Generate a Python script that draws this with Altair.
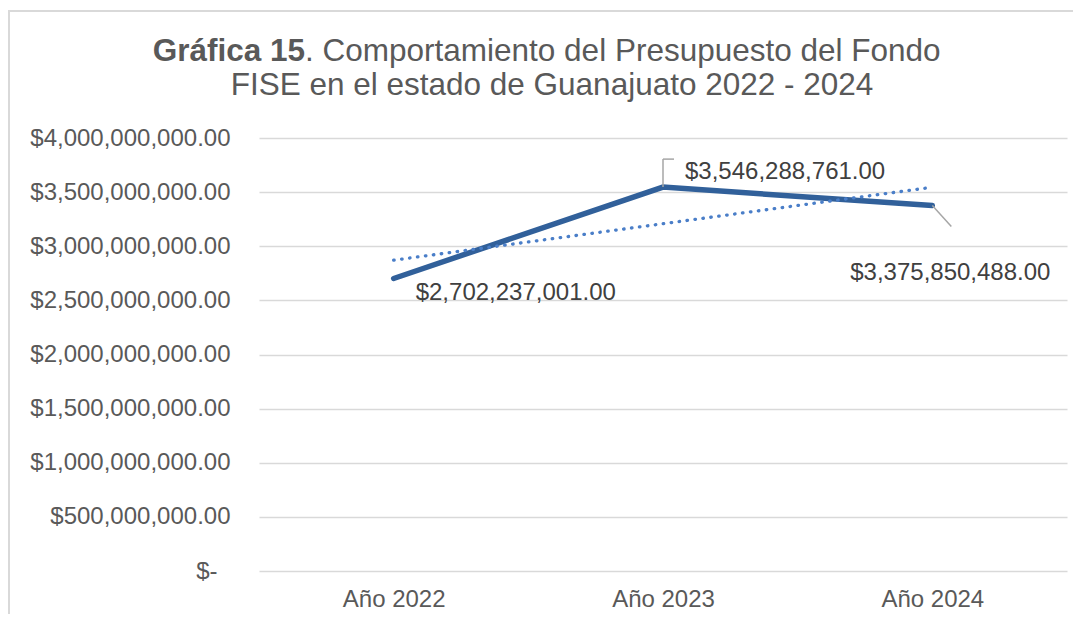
import altair as alt
import pandas as pd

categories = ["Año 2022", "Año 2023", "Año 2024"]
values = [2702237001.00, 3546288761.00, 3375850488.00]
y_ticks = [0, 500000000, 1000000000, 1500000000, 2000000000,
           2500000000, 3000000000, 3500000000, 4000000000]

title_bold = "Gráfica 15"
title_rest = ". Comportamiento del Presupuesto del Fondo"
title_line2 = "FISE en el estado de Guanajuato 2022 - 2024"

FONT = "Liberation Sans"
LBL = 24
df = pd.DataFrame({"idx": list(range(len(categories))), "label": categories, "value": values})

cat_expr = "[" + ",".join("'" + c + "'" for c in categories) + "][datum.value]"
y_expr = "datum.value == 0 ? '$-' : format(datum.value, '$,.2f')"

x_enc = alt.X("idx:Q", scale=alt.Scale(domain=[-0.5, len(categories) - 0.5], nice=False, zero=False),
              axis=alt.Axis(values=list(range(len(categories))), labelExpr=cat_expr,
                            grid=False, domain=False, ticks=False, labelPadding=16,
                            labelFontSize=LBL, labelFont=FONT, labelColor="#595959",
                            labelLimit=0, title=None))
y_enc = alt.Y("value:Q", scale=alt.Scale(domain=[0, 4000000000], nice=False),
              axis=alt.Axis(values=y_ticks, labelExpr=y_expr, grid=True,
                            gridColor="#d9d9d9", gridWidth=1.5, domain=False,
                            ticks=False,
                            labelPadding={"condition": {"test": "datum.value == 0", "value": 42}, "value": 29},
                            labelFontSize=LBL,
                            labelFont=FONT, labelColor="#595959", labelLimit=0,
                            title=None))

base = alt.Chart(df)

line = base.mark_line(color="#31609A", strokeWidth=5.5, strokeCap="round").encode(x=x_enc, y=y_enc)

trend = base.transform_regression("idx", "value", method="linear").mark_line(
    color="#4A7EC8", strokeWidth=3.3, strokeDash=[0.5, 7.5], strokeCap="round"
).encode(x="idx:Q", y="value:Q")

lbl_style = dict(fontSize=LBL, font=FONT, color="#404040", baseline="middle")
lbl0 = base.transform_filter(alt.datum.idx == 0).mark_text(align="left", dx=22, dy=15, **lbl_style).encode(
    x="idx:Q", y="value:Q", text=alt.Text("value:Q", format="$,.2f"))
lbl1 = base.transform_filter(alt.datum.idx == 1).mark_text(align="left", dx=22, dy=-15, **lbl_style).encode(
    x="idx:Q", y="value:Q", text=alt.Text("value:Q", format="$,.2f"))
lbl2 = base.transform_filter(alt.datum.idx == 2).mark_text(align="center", dx=18, dy=67, **lbl_style).encode(
    x="idx:Q", y="value:Q", text=alt.Text("value:Q", format="$,.2f"))

lead_color = "#a6a6a6"
lead1a = base.transform_filter(alt.datum.idx == 1).mark_rule(color=lead_color, strokeWidth=1.5, y2Offset=-28).encode(
    x="idx:Q", y="value:Q", y2="value")
lead1b = base.transform_filter(alt.datum.idx == 1).mark_rule(color=lead_color, strokeWidth=1.5, x2Offset=11, yOffset=-28, y2Offset=-28).encode(
    x="idx:Q", x2="idx", y="value:Q", y2="value")
lead2 = base.transform_filter(alt.datum.idx == 2).mark_rule(color=lead_color, strokeWidth=1.5, x2Offset=19, y2Offset=21).encode(
    x="idx:Q", x2="idx", y="value:Q", y2="value")

t_bold = alt.Chart(pd.DataFrame({"t": [title_bold]})).mark_text(
    align="right", baseline="alphabetic", fontSize=31.5, fontWeight="bold", font=FONT, color="#595959"
).encode(text="t:N", x=alt.value(46), y=alt.value(-77))
t_rest = alt.Chart(pd.DataFrame({"t": [title_rest]})).mark_text(
    align="left", baseline="alphabetic", fontSize=31.5, font=FONT, color="#595959"
).encode(text="t:N", x=alt.value(46), y=alt.value(-77))
t_line2 = alt.Chart(pd.DataFrame({"t": [title_line2]})).mark_text(
    align="center", baseline="alphabetic", fontSize=31.5, font=FONT, color="#595959"
).encode(text="t:N", x=alt.value(293), y=alt.value(-43))

border_top = alt.Chart(pd.DataFrame({"a": [0]})).mark_rule(color="#d9d9d9", strokeWidth=2).encode(
    x=alt.value(-255), x2=alt.value(830), y=alt.value(-127))
border_left = alt.Chart(pd.DataFrame({"a": [0]})).mark_rule(color="#d9d9d9", strokeWidth=2).encode(
    x=alt.value(-250), y=alt.value(-127), y2=alt.value(500))

chart = alt.layer(
    line, trend, lead1a, lead1b, lead2, lbl0, lbl1, lbl2, t_bold, t_rest, t_line2,
    border_top, border_left
).properties(
    width=808, height=433, autosize="none",
    padding={"left": 251, "top": 130, "right": 6, "bottom": 43},
    background="white"
).configure_view(stroke=None)

chart.save("out.html", embed_options={"renderer": "svg", "actions": False})
